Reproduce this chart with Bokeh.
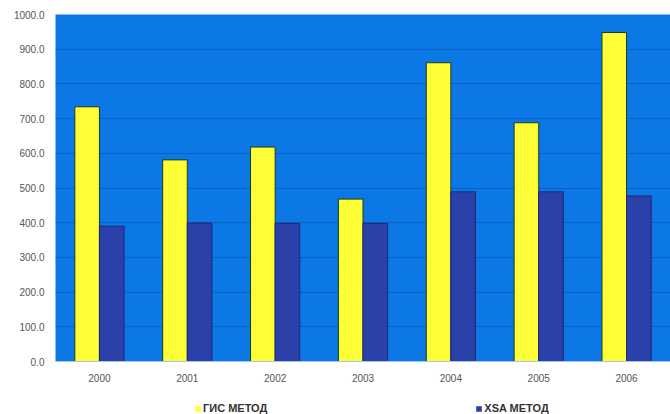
from bokeh.plotting import figure
from bokeh.layouts import column
from bokeh.models import (FactorRange, Range1d, ColumnDataSource, Legend, LegendItem,
                          NumeralTickFormatter, FixedTicker)
from bokeh.transform import dodge
from bokeh.embed import file_html
from bokeh.resources import INLINE

years = ["2000", "2001", "2002", "2003", "2004", "2005", "2006"]
gis_values = [734, 581, 618, 468, 861, 688, 948]
xsa_values = [390, 399, 398, 398, 489, 489, 477]
series_names = ["ГИС МЕТОД", "XSA МЕТОД"]
y_ticks = [0, 100, 200, 300, 400, 500, 600, 700, 800, 900, 1000]

GIS_FILL, GIS_LINE = "#ffff38", "#1e3a1a"
XSA_FILL, XSA_LINE = "#2b40a8", "#1a2a70"

source = ColumnDataSource(dict(year=years, gis=gis_values, xsa=xsa_values))
x_range = FactorRange(*years, range_padding=0)

p = figure(
    x_range=x_range,
    y_range=Range1d(0, 1000),
    width=670, height=392,
    output_backend="svg", toolbar_location=None,
    min_border_left=55, min_border_right=0, min_border_top=14, min_border_bottom=31,
    background_fill_color="#0b78e6", border_fill_color="white",
    outline_line_color=None,
)

bw = 0.28
p.vbar(x=dodge("year", -bw / 2, range=x_range), top="gis", width=bw, source=source,
       fill_color=GIS_FILL, line_color=GIS_LINE, line_width=1)
p.vbar(x=dodge("year", bw / 2, range=x_range), top="xsa", width=bw, source=source,
       fill_color=XSA_FILL, line_color=XSA_LINE, line_width=1)

p.xgrid.grid_line_color = None
p.ygrid.grid_line_color = "#0a5fc4"
p.ygrid.grid_line_width = 1
p.ygrid.ticker = FixedTicker(ticks=y_ticks)

p.yaxis.ticker = FixedTicker(ticks=y_ticks)
p.yaxis.formatter = NumeralTickFormatter(format="0.0")
p.yaxis.axis_line_color = None
p.yaxis.major_tick_line_color = None
p.yaxis.minor_tick_line_color = None
p.yaxis.major_label_text_font = "Liberation Sans"
p.yaxis.major_label_text_font_size = "10px"
p.yaxis.major_label_text_color = "#555555"
p.yaxis.major_label_standoff = 5

p.xaxis.axis_line_color = "#9ec8f0"
p.xaxis.major_tick_line_color = None
p.xaxis.minor_tick_line_color = None
p.xaxis.major_label_text_font = "Liberation Sans"
p.xaxis.major_label_text_font_size = "10px"
p.xaxis.major_label_text_color = "#555555"
p.xaxis.major_label_standoff = 6

# legend strip under the chart: key renderers share the data but are hidden
# (and lie outside the strip's y span), so only the legend entries show
leg = figure(
    width=670, height=22, x_range=x_range, y_range=Range1d(-20000, -19000),
    x_axis_location=None, y_axis_location=None,
    output_backend="svg", toolbar_location=None,
    min_border=0, outline_line_color=None, border_fill_color="white",
    background_fill_color="white",
)
leg.grid.visible = False
k_gis = leg.vbar(x="year", top="gis", width=bw, source=source,
                 fill_color=GIS_FILL, line_color=None, visible=False)
k_xsa = leg.vbar(x="year", top="xsa", width=bw, source=source,
                 fill_color=XSA_FILL, line_color=None, visible=False)

legend = Legend(
    items=[LegendItem(label=series_names[0], renderers=[k_gis]),
           LegendItem(label=series_names[1], renderers=[k_xsa])],
    orientation="horizontal", location=(139, 0), click_policy="none",
    label_text_font="Liberation Sans", label_text_font_size="11px",
    label_text_font_style="bold", label_text_color="#333333",
    label_height=12, glyph_width=7, glyph_height=7, label_standoff=2, spacing=208,
    border_line_color=None, background_fill_alpha=0,
    padding=2, margin=0,
)
leg.add_layout(legend, "center")

open("out.html", "w").write(file_html(column(p, leg, spacing=0), INLINE))
